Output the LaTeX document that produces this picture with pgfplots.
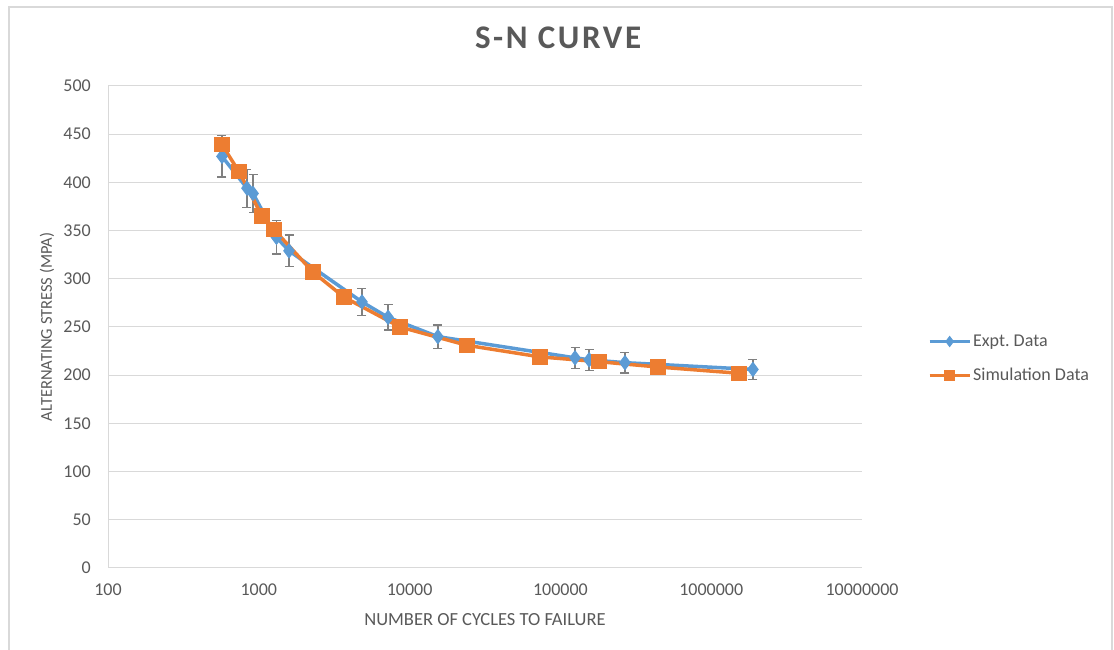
\documentclass[border=0pt]{standalone}
\usepackage{pgfplots}
\usepackage{pgfplotstable}
\pgfplotsset{compat=1.18}
\usepackage{fontspec}
\setmainfont{Carlito}
\newfontfamily\titlefont[LetterSpace=8]{Carlito}
\frenchspacing

\definecolor{exptblue}{HTML}{5B9BD5}
\definecolor{simorange}{HTML}{ED7D31}
\definecolor{labelgray}{HTML}{595959}
\definecolor{gridgray}{HTML}{D9D9D9}
\definecolor{errgray}{HTML}{808080}

% experimental fatigue data: cycles, stress amplitude (MPa), 5% error
\pgfplotstableread{
N        S      err
570      427    21.4
835      394    19.7
916      388.5  19.4
1310     343    17.2
1586     329    16.5
4830     276    13.8
7200     260    13.0
15400    240    12.0
125000   218    10.9
155000   216    10.8
268000   213    10.7
1890000  206    10.3
}\expttable

% simulated fatigue life
\pgfplotstableread{
N        S
570      439
740      411
1050     365
1262     351
2285     307
3670     281
8630     250
24000    231
73300    219
180000   214
444000   208.5
1530000  202
}\simtable

\begin{document}
\begin{tikzpicture}[x=1bp,y=1bp]
\useasboundingbox (0,0) rectangle (1114,650);
\draw[gridgray, line width=1.5bp] (9,0) -- (9,643) -- (1112,643) -- (1112,0);
\begin{axis}[
  at={(108bp,82bp)}, anchor=south west,
  scale only axis, width=754bp, height=482bp,
  xmode=log, xmin=100, xmax=1e7, ymin=0, ymax=500,
  xtick={100,1000,10000,100000,1000000,10000000},
  xticklabels={100,1000,10000,100000,1000000,10000000},
  ytick={0,50,...,500},
  axis x line=bottom, axis y line=left,
  axis line style={-, gridgray, line width=1bp},
  major tick length=0pt, minor tick length=0pt,
  ymajorgrids, grid style={gridgray, line width=1bp},
  /pgf/number format/assume math mode=true,
  tick label style={font=\fontsize{18bp}{21bp}\selectfont, text=labelgray},
  yticklabel style={inner sep=0pt, xshift=-17bp},
  xticklabel style={inner sep=0pt, yshift=-16bp},
  title={S-N CURVE},
  title style={at={(axis description cs:0.597,1.0871)}, anchor=center,
    font=\titlefont\bfseries\fontsize{33bp}{38bp}\selectfont, text=labelgray},
  xlabel={NUMBER OF CYCLES TO FAILURE},
  xlabel style={at={(axis description cs:0.5,-0.1079)}, anchor=center,
    font=\fontsize{18.5bp}{22bp}\selectfont, text=labelgray},
  ylabel={ALTERNATING STRESS (MPA)},
  ylabel style={at={(axis description cs:-0.0809,0.5)}, anchor=center,
    font=\fontsize{16.5bp}{19bp}\selectfont, text=labelgray},
  legend style={at={(axis description cs:1.0835,0.4346)}, anchor=west,
    draw=none, fill=none, font=\fontsize{18bp}{21bp}\selectfont,
    text=labelgray, row sep=13bp,
    nodes={inner sep=2bp, text height=13bp, text depth=4bp}},
  legend cell align=left,
  legend image code/.code={%
    \draw[mark repeat=2, mark phase=2, #1, line width=3bp, mark size=5bp]
      plot coordinates {(0bp,0bp) (20bp,0bp) (40bp,0bp)};},
]
\addplot[exptblue, line width=3.5bp, mark=diamond*, mark size=7bp,
  mark options={solid, fill=exptblue, line width=1bp},
  error bars/.cd, y dir=both, y explicit,
  error bar style={errgray, line width=1.3bp},
  error mark options={rotate=90, errgray, mark size=4.5bp, line width=1.3bp}]
  table[x=N, y=S, y error=err] {\expttable};
\addlegendentry{Expt. Data}
\addplot[simorange, line width=3.5bp, mark=square*, mark size=7.2bp,
  mark options={solid, fill=simorange, line width=1bp}]
  table[x=N, y=S] {\simtable};
\addlegendentry{Simulation Data}
\end{axis}
\end{tikzpicture}
\end{document}
